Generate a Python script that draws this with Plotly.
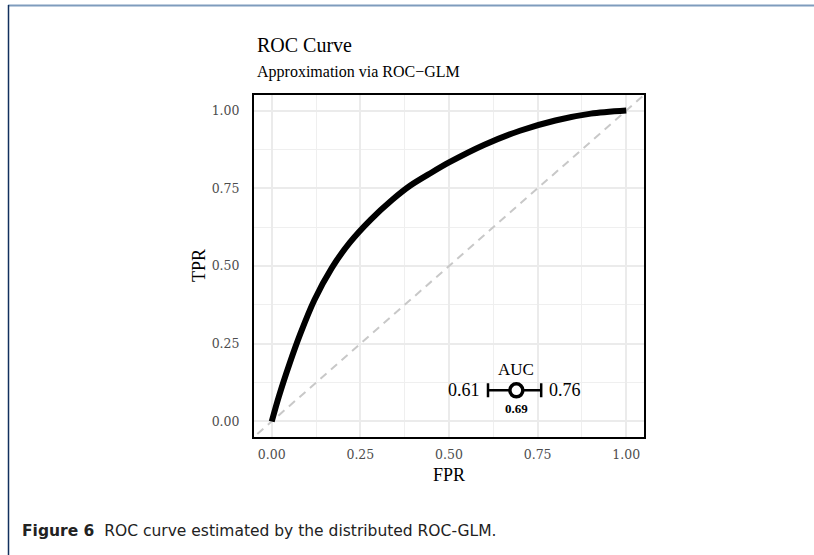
import plotly.graph_objects as go

# ROC curve points
fpr = [0.0, 0.02, 0.05, 0.08, 0.12, 0.17, 0.22, 0.28, 0.34, 0.39, 0.45, 0.50,
       0.60, 0.70, 0.80, 0.90, 1.0]
tpr = [0.0, 0.08, 0.185, 0.28, 0.39, 0.495, 0.575, 0.65, 0.713, 0.758, 0.80, 0.833,
       0.89, 0.935, 0.968, 0.99, 1.0]

# reference diagonal (y = x)
diag = [-0.1, 1.1]

# AUC with confidence interval
auc = 0.69
ci_low = 0.61
ci_high = 0.76
auc_y = 0.10

tick_vals = [0.0, 0.25, 0.5, 0.75, 1.0]
tick_text = ["0.00", "0.25", "0.50", "0.75", "1.00"]

W, H = 814, 555
L, R, T, B = 254, 644, 95, 437


def px_x(p):
    return (p - L) / (R - L)


def px_y(p):
    return (B - p) / (B - T)


serif = "Liberation Serif"
tickfont = dict(family="DejaVu Serif", size=12.5, color="#4d4d4d")

fig = go.Figure()
fig.add_trace(go.Scatter(x=diag, y=diag, mode="lines",
                         line=dict(color="#c8c8c8", width=2, dash="8px,6px"),
                         hoverinfo="skip", showlegend=False))
fig.add_trace(go.Scatter(x=fpr, y=tpr, mode="lines",
                         line=dict(color="black", width=6, shape="spline", smoothing=0.8),
                         showlegend=False))
fig.add_trace(go.Scatter(
    x=[auc], y=[auc_y], mode="markers",
    marker=dict(size=13, color="white", line=dict(color="black", width=3.5)),
    error_x=dict(type="data", symmetric=False, array=[ci_high - auc],
                 arrayminus=[auc - ci_low], color="black", thickness=2.5, width=7),
    showlegend=False))

anns = [
    dict(x=ci_low, y=auc_y, xref="x", yref="y", text=f"{ci_low:.2f}", showarrow=False,
         xanchor="right", yanchor="middle", xshift=-6, font=dict(family=serif, size=18, color="black")),
    dict(x=ci_high, y=auc_y, xref="x", yref="y", text=f"{ci_high:.2f}", showarrow=False,
         xanchor="left", yanchor="middle", xshift=6, font=dict(family=serif, size=18, color="black")),
    dict(x=auc, y=auc_y, xref="x", yref="y", text=f"<b>{auc:.2f}</b>", showarrow=False,
         xanchor="center", yanchor="middle", yshift=-18, font=dict(family=serif, size=13, color="black")),
    dict(x=auc, y=auc_y, xref="x", yref="y", text="AUC", showarrow=False,
         xanchor="center", yanchor="middle", yshift=21, font=dict(family=serif, size=17, color="black")),
    dict(x=px_x(255), y=px_y(45), xref="paper", yref="paper", text="ROC Curve", showarrow=False,
         xanchor="left", yanchor="middle", font=dict(family=serif, size=20, color="black")),
    dict(x=px_x(255), y=px_y(72), xref="paper", yref="paper", text="Approximation via ROC\u2212GLM",
         showarrow=False, xanchor="left", yanchor="middle", font=dict(family=serif, size=16, color="black")),
    dict(x=px_x(449), y=px_y(475), xref="paper", yref="paper", text="FPR", showarrow=False,
         xanchor="center", yanchor="middle", font=dict(family=serif, size=18, color="black")),
    dict(x=px_x(199), y=px_y(266), xref="paper", yref="paper", text="TPR", showarrow=False, textangle=-90,
         xanchor="center", yanchor="middle", font=dict(family=serif, size=18, color="black")),
    dict(x=px_x(20), y=px_y(531), xref="paper", yref="paper",
         text="<b>Figure 6</b>  ROC curve estimated by the distributed ROC-GLM.", showarrow=False,
         xanchor="left", yanchor="middle", font=dict(family="DejaVu Sans", size=15.5, color="#222222")),
]

shapes = [
    dict(type="line", xref="paper", yref="paper", x0=px_x(8), x1=px_x(814), y0=px_y(5.5), y1=px_y(5.5),
         line=dict(color="#7f9cbd", width=2)),
    dict(type="line", xref="paper", yref="paper", x0=px_x(8.5), x1=px_x(8.5), y0=px_y(5), y1=px_y(555),
         line=dict(color="#12305e", width=1.5)),
]

axis_common = dict(
    tickvals=tick_vals, ticktext=tick_text, tickfont=tickfont,
    showgrid=True, gridcolor="#ebebeb", gridwidth=2,
    minor=dict(dtick=0.125, tick0=0, showgrid=True, gridcolor="#efefef", gridwidth=1.2),
    showline=True, mirror=True, linecolor="black", linewidth=2,
    zeroline=False, ticks="outside", tickcolor="rgba(0,0,0,0)",
)

fig.update_layout(
    width=W, height=H,
    margin=dict(l=L, r=W - R, t=T, b=H - B),
    paper_bgcolor="white", plot_bgcolor="white",
    xaxis=dict(range=[-0.05, 1.05], ticklen=5, **axis_common),
    yaxis=dict(range=[-0.05, 1.05], ticklen=10, **axis_common),
    annotations=anns, shapes=shapes,
)

fig.write_html("out.html")
